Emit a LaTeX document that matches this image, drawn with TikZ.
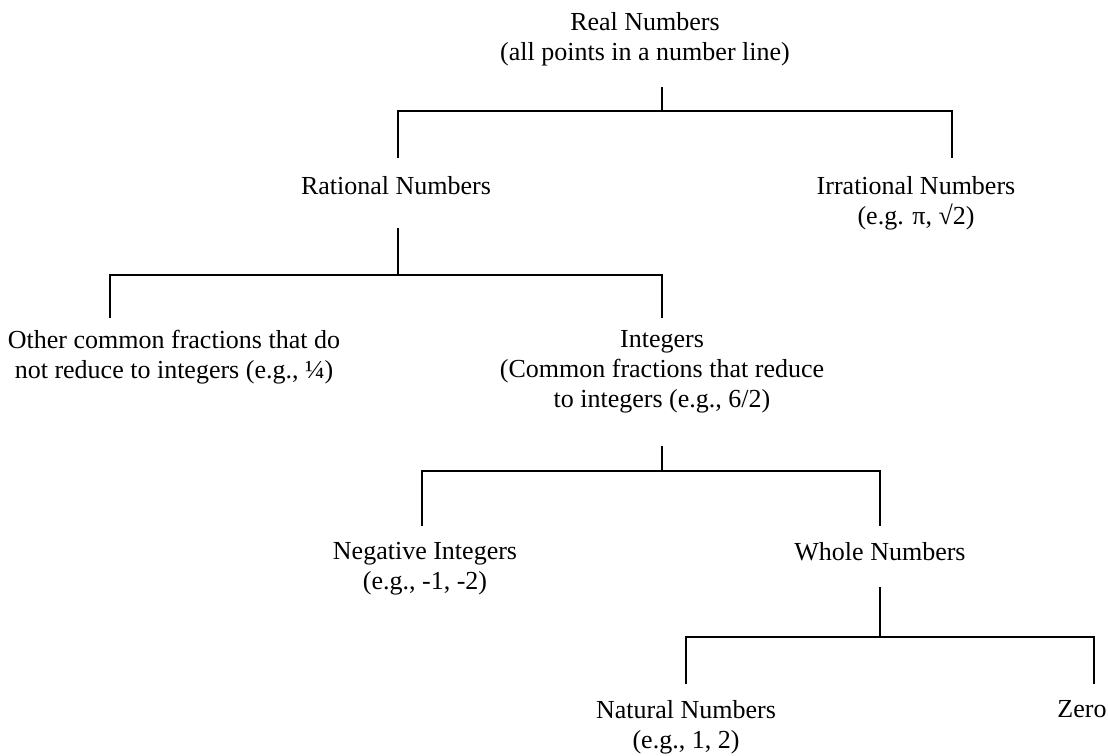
\documentclass[tikz,border=0pt]{standalone}
\usepackage{fontspec}
\setmainfont{Liberation Serif}
\begin{document}
\begin{tikzpicture}[x=1pt,y=-1pt,
  lbl/.style={font=\fontsize{26}{30}\selectfont, align=center, inner sep=0pt, anchor=north},
  branch/.style={line width=2pt, line join=miter, line cap=butt}]
\useasboundingbox (0,0) rectangle (1108,755);

% category labels (anchored at the top of their first line)
\node[lbl] (real)  at (645,12)  {Real Numbers\\(all points in a number line)};
\node[lbl] (rat)   at (396,176) {Rational Numbers};
\node[lbl] (irr)   at (916,176) {Irrational Numbers\\(e.g. π, √2)};
\node[lbl] (other) at (174,330) {Other common fractions that do\\not reduce to integers (e.g., ¼)};
\node[lbl] (int)   at (662,330) {Integers\\(Common fractions that reduce\\to integers (e.g., 6/2)};
\node[lbl] (neg)   at (425,542) {Negative Integers\\(e.g., -1, -2)};
\node[lbl] (whole) at (880,542) {Whole Numbers};
\node[lbl] (nat)   at (686,700) {Natural Numbers\\(e.g., 1, 2)};
\node[lbl] (zero)  at (1082,700) {Zero};

% stems, bars and drops of the tree
\coordinate (realstem) at (662,87);   \coordinate (realbar) at (662,111);
\coordinate (ratdrop)  at (398,158);  \coordinate (irrdrop) at (952,158);
\coordinate (ratstem)  at (398,228);  \coordinate (ratbar)  at (398,275);
\coordinate (othdrop)  at (110,318);  \coordinate (intdrop) at (662,318);
\coordinate (intstem)  at (662,446);  \coordinate (intbar)  at (662,471);
\coordinate (negdrop)  at (422,526);  \coordinate (whdrop)  at (880,526);
\coordinate (whstem)   at (880,587);  \coordinate (whbar)   at (880,637);
\coordinate (natdrop)  at (686,684);  \coordinate (zerodrop) at (1094,684);

\draw[branch] (realstem) -- (realbar);
\draw[branch] (ratdrop) -- (ratdrop |- realbar) -- (irrdrop |- realbar) -- (irrdrop);
\draw[branch] (ratstem) -- (ratbar);
\draw[branch] (othdrop) -- (othdrop |- ratbar) -- (intdrop |- ratbar) -- (intdrop);
\draw[branch] (intstem) -- (intbar);
\draw[branch] (negdrop) -- (negdrop |- intbar) -- (whdrop |- intbar) -- (whdrop);
\draw[branch] (whstem) -- (whbar);
\draw[branch] (natdrop) -- (natdrop |- whbar) -- (zerodrop |- whbar) -- (zerodrop);
\end{tikzpicture}
\end{document}
